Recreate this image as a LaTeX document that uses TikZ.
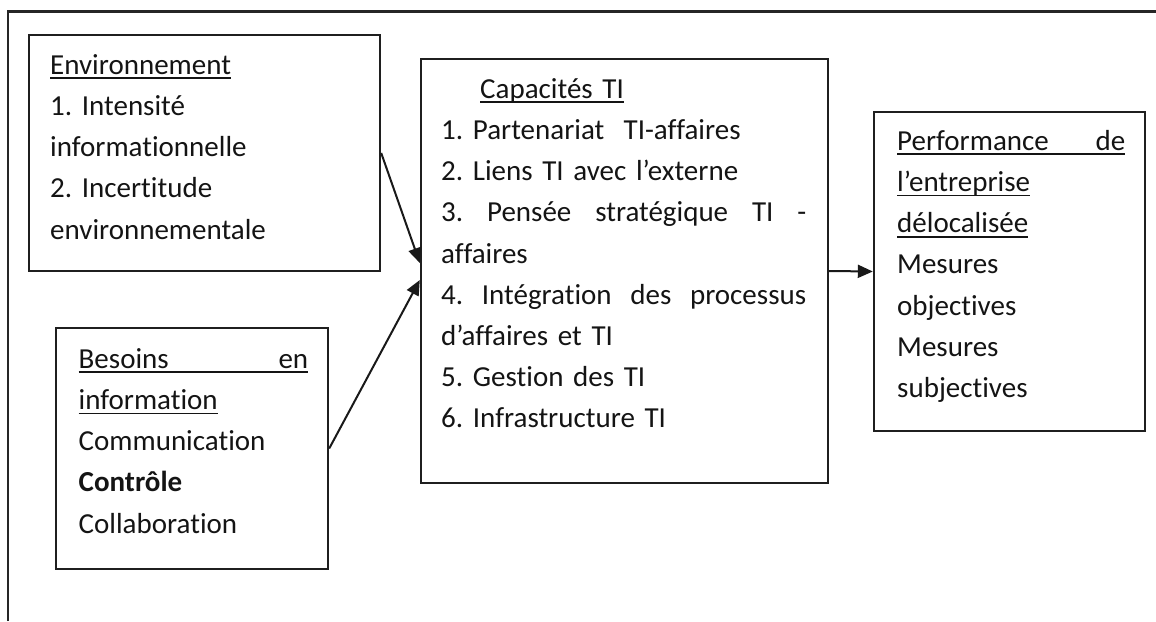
\documentclass[tikz,border=0pt]{standalone}
\usepackage{fontspec}
\setmainfont{Carlito}[Ligatures={NoCommon,NoContextual}]
\usetikzlibrary{arrows.meta}
\frenchspacing

% underline at a fixed depth below the baseline
\newcommand\ulbar[1]{\leavevmode\setbox0=\hbox{#1}\rlap{\rule[-5pt]{\wd0}{1.8pt}}\box0}
% a line stretched over the whole text width
\newcommand\jline[1]{\leavevmode\hbox to\hsize{#1}}

\begin{document}
\begin{tikzpicture}[x=1pt,y=-1pt,
  box/.style={draw=black!88, line width=2.4pt, inner sep=0pt},
  txt/.style={anchor=north west, inner sep=0pt, align=left, text=black!92,
              font=\fontsize{29}{41.2}\selectfont},
  arr/.style={draw=black!90, line width=2pt, -{Triangle[length=15pt,width=13pt]}}]
\useasboundingbox (0,0) rectangle (1156,621);

% open outer frame
\draw[black!85, line width=2.2pt] (8,621) -- (8,11.5) -- (1156,11.5);

% boxes
\node[box, minimum width=351pt, minimum height=236pt] (env)  at (204.5,153) {};
\node[box, minimum width=407pt, minimum height=424pt] (cap)  at (624.5,271) {};
\node[box, minimum width=272pt, minimum height=241pt] (bes)  at (192,448.5) {};
\node[box, minimum width=271pt, minimum height=319pt] (perf) at (1009.5,271.5) {};

% box contents
\node[txt, text width=320pt] (envtxt) at (50,45.2) {%
\strut\ulbar{Environnement}\\
1. Intensité\\
informationnelle\\
2. Incertitude\\
environnementale};

\node[txt, text width=365pt] (captxt) at (441,69.2) {%
\strut\hspace*{39pt}\ulbar{Capacités TI}\\
1. Partenariat~~TI-affaires\\
2. Liens TI avec l’externe\\
\jline{3.\hfill Pensée\hfill stratégique\hfill TI\hfill -}\\
affaires\\
\jline{4.\hfill Intégration\hfill des\hfill processus}\\
d’affaires et TI\\
5. Gestion des TI\\
6. Infrastructure TI};

\node[txt, text width=229.5pt] (bestxt) at (78.5,339.2) {%
\strut\ulbar{\hbox to 229.5pt{Besoins\hfill en}}\\
\ulbar{information}\\
Communication\\
\textbf{Contrôle}\\
Collaboration};

\node[txt, text width=228pt] (perftxt) at (897,121.2) {%
\strut\ulbar{\hbox to 228pt{Performance\hfill de}}\\
\ulbar{l’entreprise}\\
\ulbar{délocalisée}\\
Mesures\\
objectives\\
Mesures\\
subjectives};

% connectors
\draw[arr] (env.east) -- ([yshift=8pt]cap.west);
\draw[arr] (bes.east) -- ([yshift=-9pt]cap.west);
\draw[arr] (cap.east) -- (perf.west);
\end{tikzpicture}
\end{document}
